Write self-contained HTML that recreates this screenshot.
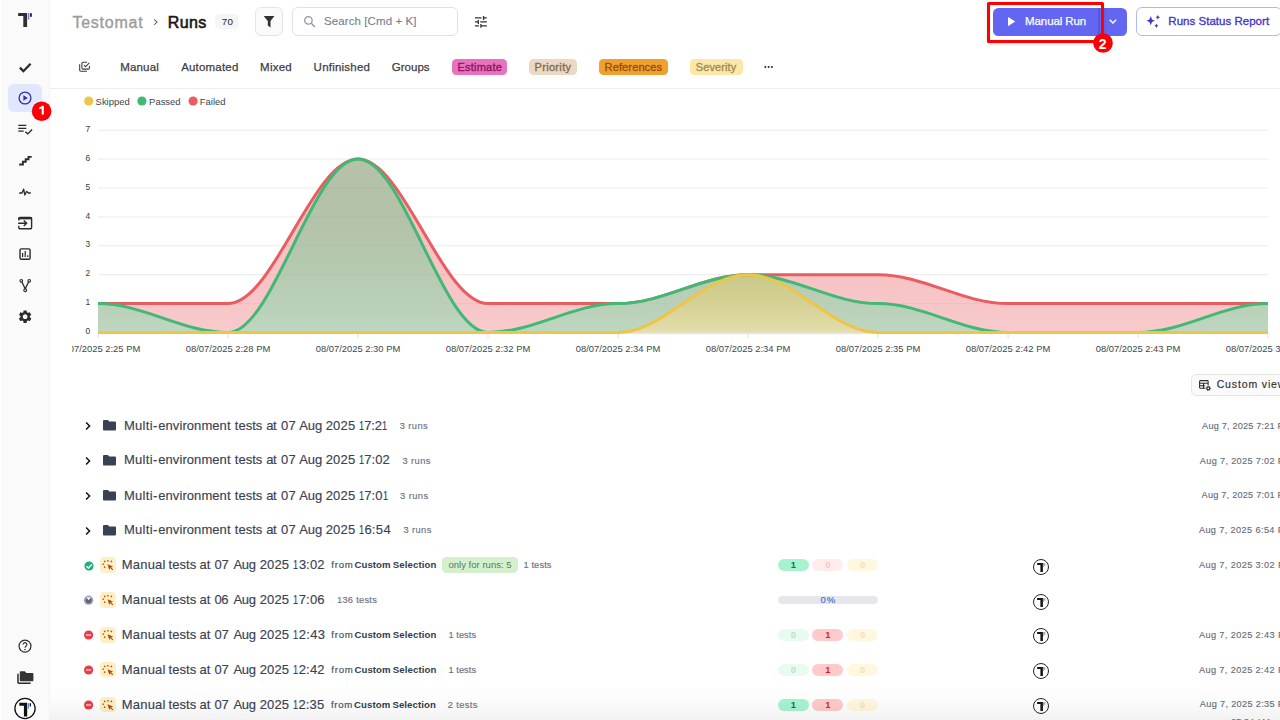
<!DOCTYPE html>
<html lang="en">
<head>
<meta charset="utf-8">
<title>Testomat - Runs</title>
<style>
*{box-sizing:border-box;margin:0;padding:0}
html,body{width:1280px;height:720px;overflow:hidden;background:#fff}
body{font-family:"Liberation Sans",sans-serif;color:#111;position:relative}
.abs{position:absolute}
.t{position:absolute;white-space:nowrap;line-height:1;transform-origin:0 50%}
#sidebar{position:absolute;left:1px;top:0;width:49px;height:720px;background:#fafafa;border-right:1px solid #f3f3f3}
#tabline{position:absolute;left:50px;top:88px;width:1230px;height:1px;background:#eceef1}
.badge{position:absolute;border-radius:4.500px;height:16px;top:58.800px}
svg{position:absolute;overflow:visible}
.pill{position:absolute;height:12.200px;width:31px;border-radius:6.100px;font-size:9.300px;font-weight:bold;text-align:center;line-height:13.400px}
.pg{background:#a7f3d0;color:#047857}
.pr{background:#fecaca;color:#e02424}
.pg0{background:#e9fbf1;color:#b5e3cb}
.pr0{background:#ffeced;color:#fcc4c4}
.py0{background:#fff8de;color:#fbdcb4}
</style>
</head>
<body>
<div id="sidebar"></div>
<svg width="60" height="720" viewBox="0 0 60 720" style="left:0;top:0">
  <!-- logo -->
  <g fill="#2f2f2f">
    <path d="M18.6 12.9H27.1V26.9H23.3V16.1H18.6a0.6 0.6 0 0 1-.5-.6V13.5a0.6 0.6 0 0 1 .5-.6z"/>
    <rect x="30" y="13.2" width="1.9" height="3.6"/>
  </g>
  <rect x="27.9" y="13.1" width="1.4" height="6.5" fill="#6b7cf0"/>
  <!-- check -->
  <path d="M19.9 67.6L23.4 71.2L30.6 63.8" fill="none" stroke="#2b2b2b" stroke-width="2.3"/>
  <!-- active -->
  <rect x="8" y="84" width="34" height="28" rx="6" fill="#e0e7ff"/>
  <circle cx="25" cy="98" r="5.9" fill="none" stroke="#3730a3" stroke-width="1.3"/>
  <path d="M23.4 95.2L27.8 98L23.4 100.8z" fill="#3730a3"/>
  <!-- playlist check -->
  <g fill="none" stroke="#2b2b2b" stroke-width="1.3">
    <path d="M18.3 125.4H26.3M18.3 128.3H26.3M18.3 131.2H23.7"/>
    <path d="M25.300 131.700L27.800 133.900L32.100 129.600" stroke-width="1.400"/>
  </g>
  <!-- stairs -->
  <path d="M19.2 164.5H22.9V161.8H25.7V159.2H28.5V156.9H31.7" fill="none" stroke="#2b2b2b" stroke-width="1.9"/>
  <!-- pulse -->
  <path d="M19.200 193H22L23.700 189.100L24.800 195L26.700 191.400L28.400 193H30.800" fill="none" stroke="#2b2b2b" stroke-width="1.300" stroke-linejoin="round"/>
  <!-- import -->
  <g fill="none" stroke="#2b2b2b">
    <path d="M18.8 220.6V218.6a1.2 1.2 0 0 1 1.2-1.2H30.4a1.2 1.2 0 0 1 1.2 1.2V227.6a1.2 1.2 0 0 1-1.2 1.2H20a1.2 1.2 0 0 1-1.2-1.2V225.8" stroke-width="1.4"/>
    <path d="M18.8 218.2H31.6" stroke-width="2.4"/>
    <path d="M18.1 223.3H26.3M23.8 220.5L26.6 223.3L23.8 226.1" stroke-width="1.4"/>
  </g>
  <!-- chart -->
  <g fill="none" stroke="#2b2b2b">
    <rect x="20" y="248.9" width="10.1" height="10.4" rx="1.3" stroke-width="1.4"/>
    <path d="M22.6 253V257M25.2 250.9V257M27.8 255.2V257" stroke-width="1.2"/>
  </g>
  <!-- fork -->
  <g fill="none" stroke="#2b2b2b" stroke-width="1.1">
    <circle cx="21.3" cy="280.8" r="1.3"/><circle cx="29.2" cy="280.8" r="1.3"/><circle cx="25.2" cy="290.2" r="1.4"/>
    <path d="M21.9 282L25.2 288.8L28.6 282" stroke-width="1.3"/>
  </g>
  <!-- gear -->
  <g transform="translate(17.25,308.85) scale(0.655)">
    <path fill="#2b2b2b" d="M19.14 12.94c.04-.3.06-.61.06-.94 0-.32-.02-.64-.07-.94l2.03-1.58c.18-.14.23-.41.12-.61l-1.92-3.32c-.12-.22-.37-.29-.59-.22l-2.39.96c-.5-.38-1.03-.7-1.62-.94l-.36-2.54c-.04-.24-.24-.41-.48-.41h-3.84c-.24 0-.43.17-.47.41l-.36 2.54c-.59.24-1.13.57-1.62.94l-2.39-.96c-.22-.08-.47 0-.59.22L2.74 8.87c-.12.21-.08.47.12.61l2.03 1.58c-.05.3-.09.63-.09.94s.02.64.07.94l-2.03 1.58c-.18.14-.23.41-.12.61l1.92 3.32c.12.22.37.29.59.22l2.39-.96c.5.38 1.03.7 1.62.94l.36 2.54c.05.24.24.41.48.41h3.84c.24 0 .44-.17.47-.41l.36-2.54c.59-.24 1.13-.56 1.62-.94l2.39.96c.22.08.47 0 .59-.22l1.92-3.32c.12-.22.07-.47-.12-.61l-2.01-1.58zM12 15.6c-1.98 0-3.6-1.62-3.6-3.6s1.620-3.6 3.600-3.6 3.600 1.620 3.600 3.600-1.620 3.600-3.600 3.600z"/>
  </g>
  <!-- badge 1 -->
  <circle cx="41.600" cy="111.300" r="9.800" fill="#fb0007"/>
  <path d="M43.800 105.800V114.500H41.700V108.400L39.300 109.300V107.500L42.300 105.800z" fill="#fff"/>
  <!-- help -->
  <circle cx="25" cy="646.100" r="5.950" fill="none" stroke="#2b2b2b" stroke-width="1.200"/>
  <path d="M23.1 644.6a1.9 1.9 0 1 1 2.9 1.6c-.7.45-1 .8-1 1.6" fill="none" stroke="#2b2b2b" stroke-width="1.1"/>
  <circle cx="25" cy="649.4" r=".75" fill="#2b2b2b"/>
  <!-- folders -->
  <path d="M20.6 671.3h4.2l1.5 1.6h6.3a.8.8 0 0 1 .8.8v6.700a.8.8 0 0 1-.8.8H20.600a.8.8 0 0 1-.8-.8V672.100a.8.8 0 0 1 .8-.8z" fill="#333"/>
  <path d="M18 673.800V682.500a.7.700 0 0 0 .7.700H30.600" fill="none" stroke="#2b2b2b" stroke-width="1.500"/>
  <!-- bottom logo -->
  <circle cx="25" cy="708.5" r="10.1" fill="#fff" stroke="#111" stroke-width="1.3"/>
  <path d="M19.3 702.8H27.2V716.600H23.9V705.800H19.300z" fill="#111"/>
  <rect x="27.900" y="703.200" width="1.100" height="5.400" fill="#5b7cf5"/>
  <rect x="29.700" y="703.200" width="1.300" height="3.200" fill="#111"/>
</svg>
<div id="tabline"></div>
<!-- breadcrumb chevron -->
<svg width="8" height="10" viewBox="0 0 8 10" style="left:152px;top:17px"><path d="M2.100 2.300L5.100 5.100L2.100 7.900" fill="none" stroke="#6a6a6a" stroke-width="1.050"/></svg>
<div class="abs" style="left:215px;top:14px;width:24px;height:15px;border-radius:5px;background:#f5f5f5"></div>
<!-- filter button -->
<div class="abs" style="left:255px;top:7px;width:28px;height:28.500px;border-radius:6px;background:#fafafa;border:1px solid #e5e5e5"></div>
<svg width="12" height="12" viewBox="0 0 12 12" style="left:263.900px;top:15.900px"><path d="M.3 0H9.900a.3.300 0 0 1 .23.500L6.500 4.900V11.400L3.800 9.600V4.900L.07.500A.3.300 0 0 1 .3 0z" fill="#303030"/></svg>
<!-- search box -->
<div class="abs" style="left:292px;top:7px;width:166px;height:29px;border-radius:6px;background:#fff;border:1px solid #dde1ea"></div>
<svg width="12" height="12" viewBox="0 0 12 12" style="left:303.800px;top:15.500px"><circle cx="4.400" cy="4.400" r="3.750" fill="none" stroke="#8f96a8" stroke-width="1.250"/><path d="M7.100 7.100L10.900 10.900" stroke="#8f96a8" stroke-width="1.400"/></svg>
<!-- tune icon -->
<svg width="15.840" height="15.840" viewBox="0 0 24 24" style="left:473.400px;top:13.600px"><path fill="#333" d="M3 17v2h6v-2H3zM3 5v2h10V5H3zm10 16v-2h8v-2h-8v-2h-2v6h2zM7 9v2H3v2h4v2h2V9H7zm14 4v-2H11v2h10zm-6-4h2V7h4V5h-4V3h-2v6z"/></svg>
<!-- manual run button -->
<div class="abs" style="left:993px;top:7.500px;width:134px;height:28.300px;border-radius:5.500px;background:#6366f1"></div>
<div class="abs" style="left:1098.300px;top:7.500px;width:1.300px;height:28.300px;background:#5457e0"></div>
<svg width="8" height="9" viewBox="0 0 8 9" style="left:1007.900px;top:17px"><path d="M0 0L7.200 4.600L0 9.200z" fill="#fff"/></svg>
<svg width="9" height="6" viewBox="0 0 9 6" style="left:1109px;top:19.400px"><path d="M.7 .8L3.950 4L7.200 .8" fill="none" stroke="#fff" stroke-width="1.450"/></svg>
<!-- runs status report -->
<div class="abs" style="left:1136px;top:7px;width:146px;height:28.500px;border-radius:6px;background:#fff;border:1px solid #b1b9f3"></div>
<svg width="20" height="20" viewBox="1144 12 20 20" style="left:1144px;top:12px"><g fill="#4338ca"><path d="M1150.70 16.10L1152.00 19.40L1154.90 20.70L1152.00 22.00L1150.70 25.30L1149.40 22.00L1146.50 20.70L1149.40 19.40z"/><path d="M1157.80 14.90L1158.55 16.55L1160.00 17.30L1158.55 18.05L1157.80 19.70L1157.05 18.05L1155.60 17.30L1157.05 16.55z"/><path d="M1156.40 23.60L1157.10 25.10L1158.40 25.80L1157.10 26.50L1156.40 28.00L1155.70 26.50L1154.40 25.80L1155.70 25.10z"/></g></svg>
<!-- red highlight -->
<div class="abs" style="left:986.900px;top:2.100px;width:117.300px;height:40.800px;border:3.300px solid #ff0000;border-radius:1.500px;box-shadow:0 1px 4px rgba(0,0,0,0.12)"></div>
<svg width="22" height="22" viewBox="0 0 22 22" style="left:1091.800px;top:32.400px"><circle cx="11" cy="11" r="9.800" fill="#fb0007"/></svg>
<div class="t" style="left:1098.700px;top:36.600px;font-size:14px;font-weight:bold;color:#fff">2</div>
<!-- tabs icon -->
<svg width="20" height="20" viewBox="75 58 20 20" style="left:75px;top:58px"><g fill="none" stroke="#3a3a3a" stroke-width="1.050" stroke-linecap="round" stroke-linejoin="round"><path d="M86.600 62.300H83a1.100 1.100 0 0 0-1.100 1.100V68a1.100 1.100 0 0 0 1.100 1.100H88.300a1.100 1.100 0 0 0 1.100-1.100V66.300"/><path d="M84.200 65.300L85.600 66.700L89.100 63.100"/><path d="M79.700 64.400V70.200a1.100 1.100 0 0 0 1.100 1.100H86.600"/></g></svg>
<!-- badges -->
<div class="badge" style="left:451.800px;width:55.600px;background:#e772bd"></div>
<div class="badge" style="left:529.200px;width:47.700px;background:#ecd8c3"></div>
<div class="badge" style="left:599.100px;width:68.600px;background:#f0a02f"></div>
<div class="badge" style="left:689.600px;width:53.400px;background:#fde7a8"></div>
<svg width="10" height="4" viewBox="0 0 10 4" style="left:763.800px;top:65.300px"><g fill="#262626"><circle cx="1.300" cy="2" r="1"/><circle cx="4.600" cy="2" r="1"/><circle cx="7.900" cy="2" r="1"/></g></svg>
<svg width="1208" height="280" viewBox="72 90 1208 280" style="left:72px;top:90px;overflow:hidden;font-family:'Liberation Sans',sans-serif">
<defs>
<linearGradient id="g_failed" x1="0" y1="0" x2="0" y2="1"><stop offset="0" stop-color="#e85c62" stop-opacity="0.35"/><stop offset="1" stop-color="#f4aeb0" stop-opacity="0.65"/></linearGradient>
<linearGradient id="g_passed" x1="0" y1="0" x2="0" y2="1"><stop offset="0" stop-color="#41b873" stop-opacity="0.35"/><stop offset="1" stop-color="#a0dcb9" stop-opacity="0.65"/></linearGradient>
<linearGradient id="g_skipped" x1="0" y1="0" x2="0" y2="1"><stop offset="0" stop-color="#eec544" stop-opacity="0.35"/><stop offset="1" stop-color="#f6e2a2" stop-opacity="0.65"/></linearGradient>
</defs>
<circle cx="88.7" cy="101" r="4.6" fill="#eec544"/>
<text x="95.6" y="105.2" font-size="9.45" fill="#3d4346">Skipped</text>
<circle cx="141.9" cy="101" r="4.6" fill="#41b873"/>
<text x="149.1" y="105.2" font-size="9.45" fill="#3d4346">Passed</text>
<circle cx="193.1" cy="101" r="4.6" fill="#e85c62"/>
<text x="199.8" y="105.2" font-size="9.45" fill="#3d4346">Failed</text>
<text x="90.2" y="334.10" font-size="8.4" fill="#373d3f" text-anchor="end">0</text>
<line x1="98" x2="1268" y1="303.60" y2="303.60" stroke="#ebebeb" stroke-width="1"/>
<text x="90.2" y="305.20" font-size="8.4" fill="#373d3f" text-anchor="end">1</text>
<line x1="98" x2="1268" y1="274.70" y2="274.70" stroke="#ebebeb" stroke-width="1"/>
<text x="90.2" y="276.30" font-size="8.4" fill="#373d3f" text-anchor="end">2</text>
<line x1="98" x2="1268" y1="245.80" y2="245.80" stroke="#ebebeb" stroke-width="1"/>
<text x="90.2" y="247.40" font-size="8.4" fill="#373d3f" text-anchor="end">3</text>
<line x1="98" x2="1268" y1="216.90" y2="216.90" stroke="#ebebeb" stroke-width="1"/>
<text x="90.2" y="218.50" font-size="8.4" fill="#373d3f" text-anchor="end">4</text>
<line x1="98" x2="1268" y1="188.00" y2="188.00" stroke="#ebebeb" stroke-width="1"/>
<text x="90.2" y="189.60" font-size="8.4" fill="#373d3f" text-anchor="end">5</text>
<line x1="98" x2="1268" y1="159.10" y2="159.10" stroke="#ebebeb" stroke-width="1"/>
<text x="90.2" y="160.70" font-size="8.4" fill="#373d3f" text-anchor="end">6</text>
<line x1="98" x2="1268" y1="130.20" y2="130.20" stroke="#ebebeb" stroke-width="1"/>
<text x="90.2" y="131.80" font-size="8.4" fill="#373d3f" text-anchor="end">7</text>
<line x1="98" x2="1268" y1="333.6" y2="333.6" stroke="#e0e0e0" stroke-width="1"/>
<line x1="98.0" x2="98.0" y1="334" y2="338.3" stroke="#e0e0e0" stroke-width="1"/>
<line x1="228.0" x2="228.0" y1="334" y2="338.3" stroke="#e0e0e0" stroke-width="1"/>
<line x1="358.0" x2="358.0" y1="334" y2="338.3" stroke="#e0e0e0" stroke-width="1"/>
<line x1="488.0" x2="488.0" y1="334" y2="338.3" stroke="#e0e0e0" stroke-width="1"/>
<line x1="618.0" x2="618.0" y1="334" y2="338.3" stroke="#e0e0e0" stroke-width="1"/>
<line x1="748.0" x2="748.0" y1="334" y2="338.3" stroke="#e0e0e0" stroke-width="1"/>
<line x1="878.0" x2="878.0" y1="334" y2="338.3" stroke="#e0e0e0" stroke-width="1"/>
<line x1="1008.0" x2="1008.0" y1="334" y2="338.3" stroke="#e0e0e0" stroke-width="1"/>
<line x1="1138.0" x2="1138.0" y1="334" y2="338.3" stroke="#e0e0e0" stroke-width="1"/>
<line x1="1268.0" x2="1268.0" y1="334" y2="338.3" stroke="#e0e0e0" stroke-width="1"/>
<text x="98.0" y="352.4" font-size="9.4" fill="#40464a" text-anchor="middle">08/07/2025 2:25 PM</text>
<text x="228.0" y="352.4" font-size="9.4" fill="#40464a" text-anchor="middle">08/07/2025 2:28 PM</text>
<text x="358.0" y="352.4" font-size="9.4" fill="#40464a" text-anchor="middle">08/07/2025 2:30 PM</text>
<text x="488.0" y="352.4" font-size="9.4" fill="#40464a" text-anchor="middle">08/07/2025 2:32 PM</text>
<text x="618.0" y="352.4" font-size="9.4" fill="#40464a" text-anchor="middle">08/07/2025 2:34 PM</text>
<text x="748.0" y="352.4" font-size="9.4" fill="#40464a" text-anchor="middle">08/07/2025 2:34 PM</text>
<text x="878.0" y="352.4" font-size="9.4" fill="#40464a" text-anchor="middle">08/07/2025 2:35 PM</text>
<text x="1008.0" y="352.4" font-size="9.4" fill="#40464a" text-anchor="middle">08/07/2025 2:42 PM</text>
<text x="1138.0" y="352.4" font-size="9.4" fill="#40464a" text-anchor="middle">08/07/2025 2:43 PM</text>
<text x="1268.0" y="352.4" font-size="9.4" fill="#40464a" text-anchor="middle">08/07/2025 3:02 PM</text>
<path d="M98.00 303.60C143.50 303.60 182.50 303.60 228.00 303.60C273.50 303.60 312.50 159.10 358.00 159.10C403.50 159.10 442.50 303.60 488.00 303.60C533.50 303.60 572.50 303.60 618.00 303.60C663.50 303.60 702.50 274.70 748.00 274.70C793.50 274.70 832.50 274.70 878.00 274.70C923.50 274.70 962.50 303.60 1008.00 303.60C1053.50 303.60 1092.50 303.60 1138.00 303.60C1183.50 303.60 1222.50 303.60 1268.00 303.60L1268.00 332.50L98.00 332.50Z" fill="url(#g_failed)"/>
<path d="M98.00 303.60C143.50 303.60 182.50 303.60 228.00 303.60C273.50 303.60 312.50 159.10 358.00 159.10C403.50 159.10 442.50 303.60 488.00 303.60C533.50 303.60 572.50 303.60 618.00 303.60C663.50 303.60 702.50 274.70 748.00 274.70C793.50 274.70 832.50 274.70 878.00 274.70C923.50 274.70 962.50 303.60 1008.00 303.60C1053.50 303.60 1092.50 303.60 1138.00 303.60C1183.50 303.60 1222.50 303.60 1268.00 303.60" fill="none" stroke="#e85c62" stroke-width="3" stroke-linecap="butt"/>
<path d="M98.00 303.60C143.50 303.60 182.50 332.50 228.00 332.50C273.50 332.50 312.50 159.10 358.00 159.10C403.50 159.10 442.50 332.50 488.00 332.50C533.50 332.50 572.50 303.60 618.00 303.60C663.50 303.60 702.50 274.70 748.00 274.70C793.50 274.70 832.50 303.60 878.00 303.60C923.50 303.60 962.50 332.50 1008.00 332.50C1053.50 332.50 1092.50 332.50 1138.00 332.50C1183.50 332.50 1222.50 303.60 1268.00 303.60L1268.00 332.50L98.00 332.50Z" fill="url(#g_passed)"/>
<path d="M98.00 303.60C143.50 303.60 182.50 332.50 228.00 332.50C273.50 332.50 312.50 159.10 358.00 159.10C403.50 159.10 442.50 332.50 488.00 332.50C533.50 332.50 572.50 303.60 618.00 303.60C663.50 303.60 702.50 274.70 748.00 274.70C793.50 274.70 832.50 303.60 878.00 303.60C923.50 303.60 962.50 332.50 1008.00 332.50C1053.50 332.50 1092.50 332.50 1138.00 332.50C1183.50 332.50 1222.50 303.60 1268.00 303.60" fill="none" stroke="#41b873" stroke-width="3" stroke-linecap="butt"/>
<path d="M98.00 332.50C143.50 332.50 182.50 332.50 228.00 332.50C273.50 332.50 312.50 332.50 358.00 332.50C403.50 332.50 442.50 332.50 488.00 332.50C533.50 332.50 572.50 332.50 618.00 332.50C663.50 332.50 702.50 274.70 748.00 274.70C793.50 274.70 832.50 332.50 878.00 332.50C923.50 332.50 962.50 332.50 1008.00 332.50C1053.50 332.50 1092.50 332.50 1138.00 332.50C1183.50 332.50 1222.50 332.50 1268.00 332.50L1268.00 332.50L98.00 332.50Z" fill="url(#g_skipped)"/>
<path d="M98.00 332.50C143.50 332.50 182.50 332.50 228.00 332.50C273.50 332.50 312.50 332.50 358.00 332.50C403.50 332.50 442.50 332.50 488.00 332.50C533.50 332.50 572.50 332.50 618.00 332.50C663.50 332.50 702.50 274.70 748.00 274.70C793.50 274.70 832.50 332.50 878.00 332.50C923.50 332.50 962.50 332.50 1008.00 332.50C1053.50 332.50 1092.50 332.50 1138.00 332.50C1183.50 332.50 1222.50 332.50 1268.00 332.50" fill="none" stroke="#eec544" stroke-width="3" stroke-linecap="butt"/>
</svg>
<div class="abs" style="left:1191.2px;top:374.2px;width:100px;height:21.5px;border-radius:5px;background:#fafafa;border:1px solid #e5e5e5"></div>
<svg width="12" height="11" viewBox="0 0 12 11" style="left:1198.700px;top:380.200px"><g fill="none" stroke="#2b2b2b" stroke-width="1.050"><path d="M6.200 8.200H1.300a.7.700 0 0 1-.7-.7V1.300a.7.700 0 0 1 .7-.7H8.400a.7.700 0 0 1 .7.700V5.200"/><path d="M.6 3.300H9.100M.6 5.800H6.200M4.500 3.300V8.200"/></g><circle cx="9.300" cy="8.300" r="1.500" fill="none" stroke="#2b2b2b" stroke-width="1.200"/><circle cx="9.300" cy="8.300" r="2.250" fill="none" stroke="#2b2b2b" stroke-width=".8" stroke-dasharray=".9 .87"/></svg>
<svg width="8" height="10" viewBox="0 0 8 10" style="left:84px;top:421.2px"><path d="M2.100 1.400L5.600 5L2.100 8.600" fill="none" stroke="#111" stroke-width="1.500"/></svg>
<svg width="14" height="11" viewBox="0 0 14 11" style="left:103px;top:420.4px"><path d="M1 0H4.900L6.300 1.500H12a1 1 0 0 1 1 1V9.400a1 1 0 0 1-1 1H1a1 1 0 0 1-1-1V1a1 1 0 0 1 1-1z" fill="#394152"/></svg>
<svg width="8" height="10" viewBox="0 0 8 10" style="left:84px;top:456.1px"><path d="M2.100 1.400L5.600 5L2.100 8.600" fill="none" stroke="#111" stroke-width="1.500"/></svg>
<svg width="14" height="11" viewBox="0 0 14 11" style="left:103px;top:455.3px"><path d="M1 0H4.900L6.300 1.500H12a1 1 0 0 1 1 1V9.400a1 1 0 0 1-1 1H1a1 1 0 0 1-1-1V1a1 1 0 0 1 1-1z" fill="#394152"/></svg>
<svg width="8" height="10" viewBox="0 0 8 10" style="left:84px;top:490.9px"><path d="M2.100 1.400L5.600 5L2.100 8.600" fill="none" stroke="#111" stroke-width="1.500"/></svg>
<svg width="14" height="11" viewBox="0 0 14 11" style="left:103px;top:490.1px"><path d="M1 0H4.900L6.300 1.500H12a1 1 0 0 1 1 1V9.400a1 1 0 0 1-1 1H1a1 1 0 0 1-1-1V1a1 1 0 0 1 1-1z" fill="#394152"/></svg>
<svg width="8" height="10" viewBox="0 0 8 10" style="left:84px;top:525.6px"><path d="M2.100 1.400L5.600 5L2.100 8.600" fill="none" stroke="#111" stroke-width="1.500"/></svg>
<svg width="14" height="11" viewBox="0 0 14 11" style="left:103px;top:524.8px"><path d="M1 0H4.900L6.300 1.500H12a1 1 0 0 1 1 1V9.400a1 1 0 0 1-1 1H1a1 1 0 0 1-1-1V1a1 1 0 0 1 1-1z" fill="#394152"/></svg>
<svg width="10" height="10" viewBox="0 0 10 10" style="left:83.900px;top:560.6px"><circle cx="5" cy="5" r="4.600" fill="#19b37a"/><path d="M2.400 5.200L4.400 7L7.800 3.500" fill="none" stroke="#fff" stroke-width="1.300"/></svg>
<div class="abs" style="left:100px;top:557.3px;width:15.600px;height:15.600px;border-radius:4px;background:#fdf0c6"></div>
<svg width="12" height="12" viewBox="0 0 12 12" style="left:102px;top:559.2px"><path d="M5.500 5.300L11.100 7.400L9.100 8.300L11.200 10.400L10.400 11.200L8.300 9.100L7.400 11.100z" fill="#ae4a0c"/><g stroke="#bd5a17" stroke-width="1.500"><path d="M5.900 .9V2.400M2.200 1.900L3.300 3M.6 5L2.100 5.400M2.100 8.600L3.300 7.700M9.900 1.900L8.800 3"/></g></svg>
<svg width="18" height="18" viewBox="0 0 18 18" style="left:1032px;top:557.7px"><circle cx="9" cy="9" r="7.500" fill="#fff" stroke="#1a1a1a" stroke-width="0.950"/><path d="M5.100 5H10.900V14H8.400V6.900H5.100z" fill="#151515"/><rect x="11.200" y="5" width=".9" height="4" fill="#7d9cf7"/><rect x="12.500" y="5.200" width=".7" height="2.400" fill="#555"/></svg>
<svg width="10" height="10" viewBox="0 0 10 10" style="left:83.900px;top:595.4px"><circle cx="4.600" cy="5.200" r="4.650" fill="#989eb0"/><circle cx="4.600" cy="5.400" r="2.800" fill="#5e6579"/><path d="M2.300 2.200H6.900L4.600 5.200z" fill="#fff"/></svg>
<div class="abs" style="left:100px;top:592.1px;width:15.600px;height:15.600px;border-radius:4px;background:#fdf0c6"></div>
<svg width="12" height="12" viewBox="0 0 12 12" style="left:102px;top:594.0px"><path d="M5.500 5.300L11.100 7.400L9.100 8.300L11.200 10.400L10.400 11.200L8.300 9.100L7.400 11.100z" fill="#ae4a0c"/><g stroke="#bd5a17" stroke-width="1.500"><path d="M5.900 .9V2.400M2.200 1.900L3.300 3M.6 5L2.100 5.400M2.100 8.600L3.300 7.700M9.900 1.900L8.800 3"/></g></svg>
<svg width="18" height="18" viewBox="0 0 18 18" style="left:1032px;top:592.5px"><circle cx="9" cy="9" r="7.500" fill="#fff" stroke="#1a1a1a" stroke-width="0.950"/><path d="M5.100 5H10.900V14H8.400V6.900H5.100z" fill="#151515"/><rect x="11.200" y="5" width=".9" height="4" fill="#7d9cf7"/><rect x="12.500" y="5.200" width=".7" height="2.400" fill="#555"/></svg>
<svg width="10" height="10" viewBox="0 0 10 10" style="left:83.900px;top:630.3px"><circle cx="4.600" cy="5" r="4.600" fill="#e93d47"/><rect x="2" y="4.200" width="5.200" height="1.600" rx=".4" fill="#f8c4c7"/></svg>
<div class="abs" style="left:100px;top:627.0px;width:15.600px;height:15.600px;border-radius:4px;background:#fdf0c6"></div>
<svg width="12" height="12" viewBox="0 0 12 12" style="left:102px;top:628.9px"><path d="M5.500 5.300L11.100 7.400L9.100 8.300L11.200 10.400L10.400 11.200L8.300 9.100L7.400 11.100z" fill="#ae4a0c"/><g stroke="#bd5a17" stroke-width="1.500"><path d="M5.900 .9V2.400M2.200 1.900L3.300 3M.6 5L2.100 5.400M2.100 8.600L3.300 7.700M9.900 1.900L8.800 3"/></g></svg>
<svg width="18" height="18" viewBox="0 0 18 18" style="left:1032px;top:627.4px"><circle cx="9" cy="9" r="7.500" fill="#fff" stroke="#1a1a1a" stroke-width="0.950"/><path d="M5.100 5H10.900V14H8.400V6.900H5.100z" fill="#151515"/><rect x="11.200" y="5" width=".9" height="4" fill="#7d9cf7"/><rect x="12.500" y="5.200" width=".7" height="2.400" fill="#555"/></svg>
<svg width="10" height="10" viewBox="0 0 10 10" style="left:83.900px;top:665.2px"><circle cx="4.600" cy="5" r="4.600" fill="#e93d47"/><rect x="2" y="4.200" width="5.200" height="1.600" rx=".4" fill="#f8c4c7"/></svg>
<div class="abs" style="left:100px;top:661.9px;width:15.600px;height:15.600px;border-radius:4px;background:#fdf0c6"></div>
<svg width="12" height="12" viewBox="0 0 12 12" style="left:102px;top:663.8px"><path d="M5.500 5.300L11.100 7.400L9.100 8.300L11.200 10.400L10.400 11.200L8.300 9.100L7.400 11.100z" fill="#ae4a0c"/><g stroke="#bd5a17" stroke-width="1.500"><path d="M5.900 .9V2.400M2.200 1.900L3.300 3M.6 5L2.100 5.400M2.100 8.600L3.300 7.700M9.900 1.900L8.800 3"/></g></svg>
<svg width="18" height="18" viewBox="0 0 18 18" style="left:1032px;top:662.3px"><circle cx="9" cy="9" r="7.500" fill="#fff" stroke="#1a1a1a" stroke-width="0.950"/><path d="M5.100 5H10.900V14H8.400V6.900H5.100z" fill="#151515"/><rect x="11.200" y="5" width=".9" height="4" fill="#7d9cf7"/><rect x="12.500" y="5.200" width=".7" height="2.400" fill="#555"/></svg>
<svg width="10" height="10" viewBox="0 0 10 10" style="left:83.900px;top:700.1px"><circle cx="4.600" cy="5" r="4.600" fill="#e93d47"/><rect x="2" y="4.200" width="5.200" height="1.600" rx=".4" fill="#f8c4c7"/></svg>
<div class="abs" style="left:100px;top:696.8px;width:15.600px;height:15.600px;border-radius:4px;background:#fdf0c6"></div>
<svg width="12" height="12" viewBox="0 0 12 12" style="left:102px;top:698.7px"><path d="M5.500 5.300L11.100 7.400L9.100 8.300L11.200 10.400L10.400 11.200L8.300 9.100L7.400 11.100z" fill="#ae4a0c"/><g stroke="#bd5a17" stroke-width="1.500"><path d="M5.900 .9V2.400M2.200 1.900L3.300 3M.6 5L2.100 5.400M2.100 8.600L3.300 7.700M9.900 1.900L8.800 3"/></g></svg>
<svg width="18" height="18" viewBox="0 0 18 18" style="left:1032px;top:697.2px"><circle cx="9" cy="9" r="7.500" fill="#fff" stroke="#1a1a1a" stroke-width="0.950"/><path d="M5.100 5H10.900V14H8.400V6.900H5.100z" fill="#151515"/><rect x="11.200" y="5" width=".9" height="4" fill="#7d9cf7"/><rect x="12.500" y="5.200" width=".7" height="2.400" fill="#555"/></svg>
<div class="pill pg" style="left:777.900px;top:558.9px">1</div>
<div class="pill pr0" style="left:812.300px;top:558.9px">0</div>
<div class="pill py0" style="left:847px;top:558.9px">0</div>
<div class="pill pg0" style="left:777.900px;top:628.6px">0</div>
<div class="pill pr" style="left:812.300px;top:628.6px">1</div>
<div class="pill py0" style="left:847px;top:628.6px">0</div>
<div class="pill pg0" style="left:777.900px;top:663.5px">0</div>
<div class="pill pr" style="left:812.300px;top:663.5px">1</div>
<div class="pill py0" style="left:847px;top:663.5px">0</div>
<div class="pill pg" style="left:777.900px;top:698.5px">1</div>
<div class="pill pr" style="left:812.300px;top:698.5px">1</div>
<div class="pill py0" style="left:847px;top:698.5px">0</div>
<div class="abs" style="left:778px;top:596.200px;width:100px;height:7.800px;border-radius:4px;background:#e5e7eb"></div>
<div class="abs" style="left:442px;top:557.300px;width:75.600px;height:15.500px;border-radius:4.500px;background:#d3f1cd"></div>
<div class="abs" style="left:50px;top:684px;width:1230px;height:36px;background:linear-gradient(to bottom,rgba(0,0,0,0) 0%,rgba(0,0,0,0.012) 45%,rgba(0,0,0,0.052) 100%);z-index:50;pointer-events:none"></div>
<div class="t" style="left:1231px;top:717.500px;font-size:9.2px;color:#6b7280">07:34 AM</div>
<div class="t" style="left:72.44px;top:15.00px;font-size:16px;color:#9c9c9c;letter-spacing:0.752px;-webkit-text-stroke:0.35px;">Testomat</div>
<div class="t" style="left:167.79px;top:15.00px;font-size:16px;color:#171717;letter-spacing:0.346px;-webkit-text-stroke:0.6px;">Runs</div>
<div class="t" style="left:221.70px;top:17.00px;font-size:9.8px;color:#262626;letter-spacing:0.285px;">70</div>
<div class="t" style="left:324.08px;top:16.00px;font-size:11.5px;color:#788090;letter-spacing:0.084px;-webkit-text-stroke:0.12px;">Search [Cmd + K]</div>
<div class="t" style="left:1025.06px;top:16.00px;font-size:11.5px;color:#ffffff;letter-spacing:-0.091px;-webkit-text-stroke:0.25px;">Manual Run</div>
<div class="t" style="left:1168.36px;top:16.00px;font-size:11.5px;color:#4338ca;letter-spacing:0.022px;-webkit-text-stroke:0.35px;">Runs Status Report</div>
<div class="t" style="left:120.16px;top:62.00px;font-size:11.5px;color:#3d3d42;letter-spacing:0.199px;-webkit-text-stroke:0.25px;">Manual</div>
<div class="t" style="left:181.18px;top:62.00px;font-size:11.5px;color:#3d3d42;letter-spacing:0.193px;-webkit-text-stroke:0.25px;">Automated</div>
<div class="t" style="left:260.06px;top:62.00px;font-size:11.5px;color:#3d3d42;letter-spacing:0.252px;-webkit-text-stroke:0.25px;">Mixed</div>
<div class="t" style="left:313.61px;top:62.00px;font-size:11.5px;color:#3d3d42;letter-spacing:0.221px;-webkit-text-stroke:0.25px;">Unfinished</div>
<div class="t" style="left:391.82px;top:62.00px;font-size:11.5px;color:#3d3d42;-webkit-text-stroke:0.25px;">Groups</div>
<div class="t" style="left:457.40px;top:62.00px;font-size:11px;color:#8f145c;letter-spacing:0.229px;-webkit-text-stroke:0.35px;">Estimate</div>
<div class="t" style="left:534.50px;top:62.00px;font-size:11px;color:#806c58;letter-spacing:0.328px;-webkit-text-stroke:0.35px;">Priority</div>
<div class="t" style="left:604.60px;top:62.00px;font-size:11px;color:#96500f;letter-spacing:0.128px;-webkit-text-stroke:0.35px;">References</div>
<div class="t" style="left:695.80px;top:62.00px;font-size:11px;color:#a08c54;letter-spacing:0.098px;-webkit-text-stroke:0.35px;">Severity</div>
<div class="t" style="left:1216.67px;top:379.00px;font-size:10.5px;color:#2e2e2e;letter-spacing:0.865px;-webkit-text-stroke:0.15px;">Custom view</div>
<div class="t" style="left:123.93px;top:419.00px;font-size:13px;color:#3a4252;letter-spacing:0.299px;-webkit-text-stroke:0.15px;">Multi</div>
<div class="t" style="left:153.12px;top:419.00px;font-size:13px;color:#3a4252;-webkit-text-stroke:0.15px;">-</div>
<div class="t" style="left:158.25px;top:419.00px;font-size:13px;color:#3a4252;letter-spacing:0.071px;-webkit-text-stroke:0.15px;">environment</div>
<div class="t" style="left:234.80px;top:419.00px;font-size:13px;color:#3a4252;letter-spacing:0.028px;-webkit-text-stroke:0.15px;">tests</div>
<div class="t" style="left:266.35px;top:419.00px;font-size:13px;color:#3a4252;letter-spacing:-0.494px;-webkit-text-stroke:0.15px;">at</div>
<div class="t" style="left:281.09px;top:419.00px;font-size:13px;color:#3a4252;letter-spacing:0.102px;-webkit-text-stroke:0.15px;">07</div>
<div class="t" style="left:299.27px;top:419.00px;font-size:13px;color:#3a4252;letter-spacing:-0.134px;-webkit-text-stroke:0.15px;">Aug</div>
<div class="t" style="left:325.65px;top:419.00px;font-size:13px;color:#3a4252;letter-spacing:0.227px;-webkit-text-stroke:0.15px;">2025</div>
<div class="t" style="left:359.01px;top:419.00px;font-size:13px;color:#3a4252;transform:scaleX(0.7);-webkit-text-stroke:0.15px;">1</div>
<div class="t" style="left:364.17px;top:419.00px;font-size:13px;color:#3a4252;-webkit-text-stroke:0.15px;">7</div>
<div class="t" style="left:371.31px;top:419.00px;font-size:13px;color:#3a4252;-webkit-text-stroke:0.15px;">:</div>
<div class="t" style="left:374.86px;top:419.00px;font-size:13px;color:#3a4252;-webkit-text-stroke:0.15px;">2</div>
<div class="t" style="left:382.28px;top:419.00px;font-size:13px;color:#3a4252;transform:scaleX(0.7);-webkit-text-stroke:0.15px;">1</div>
<div class="t" style="left:399.65px;top:422.00px;font-size:9.3px;color:#6b7280;letter-spacing:0.429px;-webkit-text-stroke:0.15px;">3 runs</div>
<div class="t" style="left:1202.08px;top:422.00px;font-size:9.2px;color:#656b78;letter-spacing:0.172px;-webkit-text-stroke:0.12px;">Aug 7, 2025 7:21 PM</div>
<div class="t" style="left:123.93px;top:453.00px;font-size:13px;color:#3a4252;letter-spacing:0.299px;-webkit-text-stroke:0.15px;">Multi</div>
<div class="t" style="left:153.12px;top:453.00px;font-size:13px;color:#3a4252;-webkit-text-stroke:0.15px;">-</div>
<div class="t" style="left:158.25px;top:453.00px;font-size:13px;color:#3a4252;letter-spacing:0.071px;-webkit-text-stroke:0.15px;">environment</div>
<div class="t" style="left:234.80px;top:453.00px;font-size:13px;color:#3a4252;letter-spacing:0.028px;-webkit-text-stroke:0.15px;">tests</div>
<div class="t" style="left:266.35px;top:453.00px;font-size:13px;color:#3a4252;letter-spacing:-0.494px;-webkit-text-stroke:0.15px;">at</div>
<div class="t" style="left:281.09px;top:453.00px;font-size:13px;color:#3a4252;letter-spacing:0.102px;-webkit-text-stroke:0.15px;">07</div>
<div class="t" style="left:299.27px;top:453.00px;font-size:13px;color:#3a4252;letter-spacing:-0.134px;-webkit-text-stroke:0.15px;">Aug</div>
<div class="t" style="left:325.65px;top:453.00px;font-size:13px;color:#3a4252;letter-spacing:0.227px;-webkit-text-stroke:0.15px;">2025</div>
<div class="t" style="left:359.01px;top:453.00px;font-size:13px;color:#3a4252;transform:scaleX(0.7);-webkit-text-stroke:0.15px;">1</div>
<div class="t" style="left:364.22px;top:453.00px;font-size:13px;color:#3a4252;-webkit-text-stroke:0.15px;">7</div>
<div class="t" style="left:371.43px;top:453.00px;font-size:13px;color:#3a4252;-webkit-text-stroke:0.15px;">:</div>
<div class="t" style="left:375.16px;top:453.00px;font-size:13px;color:#3a4252;-webkit-text-stroke:0.15px;">0</div>
<div class="t" style="left:382.44px;top:453.00px;font-size:13px;color:#3a4252;-webkit-text-stroke:0.15px;">2</div>
<div class="t" style="left:402.55px;top:457.00px;font-size:9.3px;color:#6b7280;letter-spacing:0.409px;-webkit-text-stroke:0.15px;">3 runs</div>
<div class="t" style="left:1199.78px;top:457.00px;font-size:9.2px;color:#656b78;letter-spacing:0.327px;-webkit-text-stroke:0.12px;">Aug 7, 2025 7:02 PM</div>
<div class="t" style="left:123.93px;top:489.00px;font-size:13px;color:#3a4252;letter-spacing:0.299px;-webkit-text-stroke:0.15px;">Multi</div>
<div class="t" style="left:153.12px;top:489.00px;font-size:13px;color:#3a4252;-webkit-text-stroke:0.15px;">-</div>
<div class="t" style="left:158.25px;top:489.00px;font-size:13px;color:#3a4252;letter-spacing:0.071px;-webkit-text-stroke:0.15px;">environment</div>
<div class="t" style="left:234.80px;top:489.00px;font-size:13px;color:#3a4252;letter-spacing:0.028px;-webkit-text-stroke:0.15px;">tests</div>
<div class="t" style="left:266.35px;top:489.00px;font-size:13px;color:#3a4252;letter-spacing:-0.494px;-webkit-text-stroke:0.15px;">at</div>
<div class="t" style="left:281.09px;top:489.00px;font-size:13px;color:#3a4252;letter-spacing:0.102px;-webkit-text-stroke:0.15px;">07</div>
<div class="t" style="left:299.27px;top:489.00px;font-size:13px;color:#3a4252;letter-spacing:-0.134px;-webkit-text-stroke:0.15px;">Aug</div>
<div class="t" style="left:325.65px;top:489.00px;font-size:13px;color:#3a4252;letter-spacing:0.227px;-webkit-text-stroke:0.15px;">2025</div>
<div class="t" style="left:359.01px;top:489.00px;font-size:13px;color:#3a4252;transform:scaleX(0.7);-webkit-text-stroke:0.15px;">1</div>
<div class="t" style="left:364.28px;top:489.00px;font-size:13px;color:#3a4252;-webkit-text-stroke:0.15px;">7</div>
<div class="t" style="left:371.59px;top:489.00px;font-size:13px;color:#3a4252;-webkit-text-stroke:0.15px;">:</div>
<div class="t" style="left:375.36px;top:489.00px;font-size:13px;color:#3a4252;-webkit-text-stroke:0.15px;">0</div>
<div class="t" style="left:382.79px;top:489.00px;font-size:13px;color:#3a4252;transform:scaleX(0.7);-webkit-text-stroke:0.15px;">1</div>
<div class="t" style="left:400.05px;top:492.00px;font-size:9.3px;color:#6b7280;letter-spacing:0.429px;-webkit-text-stroke:0.15px;">3 runs</div>
<div class="t" style="left:1201.58px;top:491.00px;font-size:9.2px;color:#656b78;letter-spacing:0.206px;-webkit-text-stroke:0.12px;">Aug 7, 2025 7:01 PM</div>
<div class="t" style="left:123.93px;top:523.00px;font-size:13px;color:#3a4252;letter-spacing:0.299px;-webkit-text-stroke:0.15px;">Multi</div>
<div class="t" style="left:153.12px;top:523.00px;font-size:13px;color:#3a4252;-webkit-text-stroke:0.15px;">-</div>
<div class="t" style="left:158.25px;top:523.00px;font-size:13px;color:#3a4252;letter-spacing:0.071px;-webkit-text-stroke:0.15px;">environment</div>
<div class="t" style="left:234.80px;top:523.00px;font-size:13px;color:#3a4252;letter-spacing:0.028px;-webkit-text-stroke:0.15px;">tests</div>
<div class="t" style="left:266.35px;top:523.00px;font-size:13px;color:#3a4252;letter-spacing:-0.494px;-webkit-text-stroke:0.15px;">at</div>
<div class="t" style="left:281.09px;top:523.00px;font-size:13px;color:#3a4252;letter-spacing:0.102px;-webkit-text-stroke:0.15px;">07</div>
<div class="t" style="left:299.27px;top:523.00px;font-size:13px;color:#3a4252;letter-spacing:-0.134px;-webkit-text-stroke:0.15px;">Aug</div>
<div class="t" style="left:325.65px;top:523.00px;font-size:13px;color:#3a4252;letter-spacing:0.227px;-webkit-text-stroke:0.15px;">2025</div>
<div class="t" style="left:359.01px;top:523.00px;font-size:13px;color:#3a4252;transform:scaleX(0.7);-webkit-text-stroke:0.15px;">1</div>
<div class="t" style="left:364.38px;top:523.00px;font-size:13px;color:#3a4252;-webkit-text-stroke:0.15px;">6</div>
<div class="t" style="left:371.82px;top:523.00px;font-size:13px;color:#3a4252;-webkit-text-stroke:0.15px;">:</div>
<div class="t" style="left:375.63px;top:523.00px;font-size:13px;color:#3a4252;-webkit-text-stroke:0.15px;">5</div>
<div class="t" style="left:383.50px;top:523.00px;font-size:13px;color:#3a4252;-webkit-text-stroke:0.15px;">4</div>
<div class="t" style="left:403.45px;top:526.00px;font-size:9.3px;color:#6b7280;letter-spacing:0.409px;-webkit-text-stroke:0.15px;">3 runs</div>
<div class="t" style="left:1198.88px;top:526.00px;font-size:9.2px;color:#656b78;letter-spacing:0.374px;-webkit-text-stroke:0.12px;">Aug 7, 2025 6:54 PM</div>
<div class="t" style="left:121.83px;top:558.00px;font-size:13px;color:#3a4252;letter-spacing:0.180px;-webkit-text-stroke:0.15px;">Manual</div>
<div class="t" style="left:168.50px;top:558.00px;font-size:13px;color:#3a4252;letter-spacing:0.053px;-webkit-text-stroke:0.15px;">tests</div>
<div class="t" style="left:199.55px;top:558.00px;font-size:13px;color:#3a4252;letter-spacing:0.006px;-webkit-text-stroke:0.15px;">at</div>
<div class="t" style="left:214.49px;top:558.00px;font-size:13px;color:#3a4252;letter-spacing:-0.298px;-webkit-text-stroke:0.15px;">07</div>
<div class="t" style="left:233.47px;top:558.00px;font-size:13px;color:#3a4252;letter-spacing:-0.284px;-webkit-text-stroke:0.15px;">Aug</div>
<div class="t" style="left:259.65px;top:558.00px;font-size:13px;color:#3a4252;letter-spacing:0.160px;-webkit-text-stroke:0.15px;">2025</div>
<div class="t" style="left:293.41px;top:558.00px;font-size:13px;color:#3a4252;transform:scaleX(0.7);-webkit-text-stroke:0.15px;">1</div>
<div class="t" style="left:298.90px;top:558.00px;font-size:13px;color:#3a4252;-webkit-text-stroke:0.15px;">3</div>
<div class="t" style="left:306.09px;top:558.00px;font-size:13px;color:#3a4252;-webkit-text-stroke:0.15px;">:</div>
<div class="t" style="left:309.88px;top:558.00px;font-size:13px;color:#3a4252;-webkit-text-stroke:0.15px;">0</div>
<div class="t" style="left:317.31px;top:558.00px;font-size:13px;color:#3a4252;-webkit-text-stroke:0.15px;">2</div>
<div class="t" style="left:1198.88px;top:561.00px;font-size:9.2px;color:#656b78;letter-spacing:0.387px;-webkit-text-stroke:0.12px;">Aug 7, 2025 3:02 PM</div>
<div class="t" style="left:121.83px;top:593.00px;font-size:13px;color:#3a4252;letter-spacing:0.180px;-webkit-text-stroke:0.15px;">Manual</div>
<div class="t" style="left:168.50px;top:593.00px;font-size:13px;color:#3a4252;letter-spacing:0.053px;-webkit-text-stroke:0.15px;">tests</div>
<div class="t" style="left:199.55px;top:593.00px;font-size:13px;color:#3a4252;letter-spacing:0.006px;-webkit-text-stroke:0.15px;">at</div>
<div class="t" style="left:214.49px;top:593.00px;font-size:13px;color:#3a4252;letter-spacing:-0.381px;-webkit-text-stroke:0.15px;">06</div>
<div class="t" style="left:233.47px;top:593.00px;font-size:13px;color:#3a4252;letter-spacing:-0.284px;-webkit-text-stroke:0.15px;">Aug</div>
<div class="t" style="left:259.65px;top:593.00px;font-size:13px;color:#3a4252;letter-spacing:0.160px;-webkit-text-stroke:0.15px;">2025</div>
<div class="t" style="left:293.41px;top:593.00px;font-size:13px;color:#3a4252;transform:scaleX(0.7);-webkit-text-stroke:0.15px;">1</div>
<div class="t" style="left:298.73px;top:593.00px;font-size:13px;color:#3a4252;-webkit-text-stroke:0.15px;">7</div>
<div class="t" style="left:306.09px;top:593.00px;font-size:13px;color:#3a4252;-webkit-text-stroke:0.15px;">:</div>
<div class="t" style="left:309.88px;top:593.00px;font-size:13px;color:#3a4252;-webkit-text-stroke:0.15px;">0</div>
<div class="t" style="left:317.31px;top:593.00px;font-size:13px;color:#3a4252;-webkit-text-stroke:0.15px;">6</div>
<div class="t" style="left:121.83px;top:628.00px;font-size:13px;color:#3a4252;letter-spacing:0.180px;-webkit-text-stroke:0.15px;">Manual</div>
<div class="t" style="left:168.50px;top:628.00px;font-size:13px;color:#3a4252;letter-spacing:0.053px;-webkit-text-stroke:0.15px;">tests</div>
<div class="t" style="left:199.55px;top:628.00px;font-size:13px;color:#3a4252;letter-spacing:0.006px;-webkit-text-stroke:0.15px;">at</div>
<div class="t" style="left:214.49px;top:628.00px;font-size:13px;color:#3a4252;letter-spacing:-0.298px;-webkit-text-stroke:0.15px;">07</div>
<div class="t" style="left:233.47px;top:628.00px;font-size:13px;color:#3a4252;letter-spacing:-0.284px;-webkit-text-stroke:0.15px;">Aug</div>
<div class="t" style="left:259.65px;top:628.00px;font-size:13px;color:#3a4252;letter-spacing:0.160px;-webkit-text-stroke:0.15px;">2025</div>
<div class="t" style="left:293.41px;top:628.00px;font-size:13px;color:#3a4252;transform:scaleX(0.7);-webkit-text-stroke:0.15px;">1</div>
<div class="t" style="left:298.77px;top:628.00px;font-size:13px;color:#3a4252;-webkit-text-stroke:0.15px;">2</div>
<div class="t" style="left:306.18px;top:628.00px;font-size:13px;color:#3a4252;-webkit-text-stroke:0.15px;">:</div>
<div class="t" style="left:310.20px;top:628.00px;font-size:13px;color:#3a4252;-webkit-text-stroke:0.15px;">4</div>
<div class="t" style="left:317.63px;top:628.00px;font-size:13px;color:#3a4252;-webkit-text-stroke:0.15px;">3</div>
<div class="t" style="left:1198.88px;top:631.00px;font-size:9.2px;color:#656b78;letter-spacing:0.383px;-webkit-text-stroke:0.12px;">Aug 7, 2025 2:43 PM</div>
<div class="t" style="left:121.83px;top:663.00px;font-size:13px;color:#3a4252;letter-spacing:0.180px;-webkit-text-stroke:0.15px;">Manual</div>
<div class="t" style="left:168.50px;top:663.00px;font-size:13px;color:#3a4252;letter-spacing:0.053px;-webkit-text-stroke:0.15px;">tests</div>
<div class="t" style="left:199.55px;top:663.00px;font-size:13px;color:#3a4252;letter-spacing:0.006px;-webkit-text-stroke:0.15px;">at</div>
<div class="t" style="left:214.49px;top:663.00px;font-size:13px;color:#3a4252;letter-spacing:-0.298px;-webkit-text-stroke:0.15px;">07</div>
<div class="t" style="left:233.47px;top:663.00px;font-size:13px;color:#3a4252;letter-spacing:-0.284px;-webkit-text-stroke:0.15px;">Aug</div>
<div class="t" style="left:259.65px;top:663.00px;font-size:13px;color:#3a4252;letter-spacing:0.160px;-webkit-text-stroke:0.15px;">2025</div>
<div class="t" style="left:293.41px;top:663.00px;font-size:13px;color:#3a4252;transform:scaleX(0.7);-webkit-text-stroke:0.15px;">1</div>
<div class="t" style="left:298.74px;top:663.00px;font-size:13px;color:#3a4252;-webkit-text-stroke:0.15px;">2</div>
<div class="t" style="left:306.09px;top:663.00px;font-size:13px;color:#3a4252;-webkit-text-stroke:0.15px;">:</div>
<div class="t" style="left:310.09px;top:663.00px;font-size:13px;color:#3a4252;-webkit-text-stroke:0.15px;">4</div>
<div class="t" style="left:317.31px;top:663.00px;font-size:13px;color:#3a4252;-webkit-text-stroke:0.15px;">2</div>
<div class="t" style="left:1198.88px;top:666.00px;font-size:9.2px;color:#656b78;letter-spacing:0.387px;-webkit-text-stroke:0.12px;">Aug 7, 2025 2:42 PM</div>
<div class="t" style="left:121.83px;top:698.00px;font-size:13px;color:#3a4252;letter-spacing:0.180px;-webkit-text-stroke:0.15px;">Manual</div>
<div class="t" style="left:168.50px;top:698.00px;font-size:13px;color:#3a4252;letter-spacing:0.053px;-webkit-text-stroke:0.15px;">tests</div>
<div class="t" style="left:199.55px;top:698.00px;font-size:13px;color:#3a4252;letter-spacing:0.006px;-webkit-text-stroke:0.15px;">at</div>
<div class="t" style="left:214.49px;top:698.00px;font-size:13px;color:#3a4252;letter-spacing:-0.298px;-webkit-text-stroke:0.15px;">07</div>
<div class="t" style="left:233.47px;top:698.00px;font-size:13px;color:#3a4252;letter-spacing:-0.284px;-webkit-text-stroke:0.15px;">Aug</div>
<div class="t" style="left:259.65px;top:698.00px;font-size:13px;color:#3a4252;letter-spacing:0.160px;-webkit-text-stroke:0.15px;">2025</div>
<div class="t" style="left:293.41px;top:698.00px;font-size:13px;color:#3a4252;transform:scaleX(0.7);-webkit-text-stroke:0.15px;">1</div>
<div class="t" style="left:298.62px;top:698.00px;font-size:13px;color:#3a4252;-webkit-text-stroke:0.15px;">2</div>
<div class="t" style="left:305.79px;top:698.00px;font-size:13px;color:#3a4252;-webkit-text-stroke:0.15px;">:</div>
<div class="t" style="left:309.52px;top:698.00px;font-size:13px;color:#3a4252;-webkit-text-stroke:0.15px;">3</div>
<div class="t" style="left:316.89px;top:698.00px;font-size:13px;color:#3a4252;-webkit-text-stroke:0.15px;">5</div>
<div class="t" style="left:1199.78px;top:700.00px;font-size:9.2px;color:#656b78;letter-spacing:0.321px;-webkit-text-stroke:0.12px;">Aug 7, 2025 2:35 PM</div>
<div class="t" style="left:331.36px;top:560.00px;font-size:9.6px;color:#4b5563;letter-spacing:0.723px;-webkit-text-stroke:0.2px;">from</div>
<div class="t" style="left:354.51px;top:560.00px;font-size:9.6px;color:#333c4b;font-weight:bold;letter-spacing:0.071px;">Custom</div>
<div class="t" style="left:392.82px;top:560.00px;font-size:9.6px;color:#333c4b;font-weight:bold;letter-spacing:0.099px;">Selection</div>
<div class="t" style="left:523.39px;top:561.00px;font-size:9.3px;color:#6b7280;letter-spacing:0.125px;-webkit-text-stroke:0.15px;">1 tests</div>
<div class="t" style="left:331.36px;top:630.00px;font-size:9.6px;color:#4b5563;letter-spacing:0.723px;-webkit-text-stroke:0.2px;">from</div>
<div class="t" style="left:354.51px;top:630.00px;font-size:9.6px;color:#333c4b;font-weight:bold;letter-spacing:0.071px;">Custom</div>
<div class="t" style="left:392.82px;top:630.00px;font-size:9.6px;color:#333c4b;font-weight:bold;letter-spacing:0.099px;">Selection</div>
<div class="t" style="left:448.39px;top:631.00px;font-size:9.3px;color:#6b7280;letter-spacing:0.058px;-webkit-text-stroke:0.15px;">1 tests</div>
<div class="t" style="left:331.36px;top:665.00px;font-size:9.6px;color:#4b5563;letter-spacing:0.723px;-webkit-text-stroke:0.2px;">from</div>
<div class="t" style="left:354.51px;top:665.00px;font-size:9.6px;color:#333c4b;font-weight:bold;letter-spacing:0.071px;">Custom</div>
<div class="t" style="left:392.82px;top:665.00px;font-size:9.6px;color:#333c4b;font-weight:bold;letter-spacing:0.099px;">Selection</div>
<div class="t" style="left:448.39px;top:666.00px;font-size:9.3px;color:#6b7280;letter-spacing:0.058px;-webkit-text-stroke:0.15px;">1 tests</div>
<div class="t" style="left:330.96px;top:700.00px;font-size:9.6px;color:#4b5563;letter-spacing:0.723px;-webkit-text-stroke:0.2px;">from</div>
<div class="t" style="left:354.11px;top:700.00px;font-size:9.6px;color:#333c4b;font-weight:bold;letter-spacing:0.071px;">Custom</div>
<div class="t" style="left:392.42px;top:700.00px;font-size:9.6px;color:#333c4b;font-weight:bold;letter-spacing:0.099px;">Selection</div>
<div class="t" style="left:447.83px;top:701.00px;font-size:9.3px;color:#6b7280;letter-spacing:0.368px;-webkit-text-stroke:0.15px;">2 tests</div>
<div class="t" style="left:448.40px;top:560.00px;font-size:9.6px;color:#5d7a5f;letter-spacing:-0.013px;">only for runs: 5</div>
<div class="t" style="left:336.99px;top:596.00px;font-size:9.3px;color:#6b7280;letter-spacing:0.263px;-webkit-text-stroke:0.15px;">136 tests</div>
<div class="t" style="left:820.43px;top:595.00px;font-size:9.5px;color:#3f6ae0;letter-spacing:1.079px;-webkit-text-stroke:0.15px;">0%</div>
</body>
</html>
